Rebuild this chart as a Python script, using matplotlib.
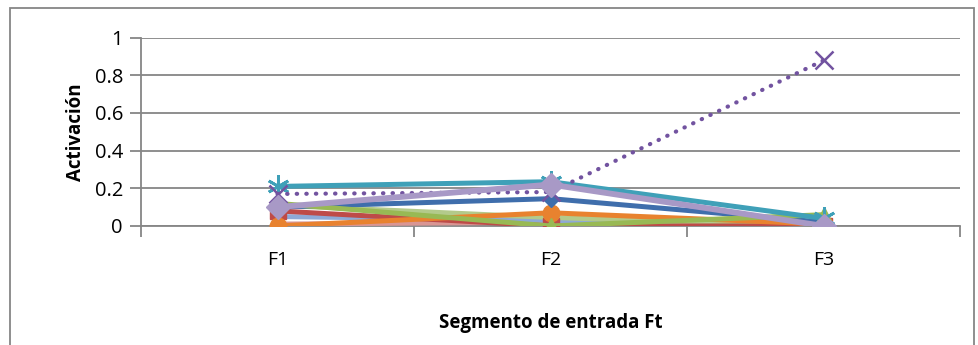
import matplotlib.pyplot as plt
from matplotlib.patches import Rectangle

categories = ['F1', 'F2', 'F3']

# series values (activation per input segment)
s_blue = [0.10, 0.145, 0.02]
s_red = [0.08, 0.0, 0.0]
s_green = [0.12, 0.0, 0.06]
s_purple = [0.17, 0.18, 0.88]
s_teal = [0.21, 0.235, 0.04]
s_orange = [0.0, 0.07, 0.01]
s_ltblue = [0.05, 0.03, 0.0]
s_pink = [0.01, 0.02, 0.0]
s_ltgreen = [0.11, 0.045, 0.0]
s_lavender = [0.10, 0.22, 0.0]

plt.rcParams['font.family'] = ['Open Sans', 'DejaVu Sans']

fig = plt.figure(figsize=(9.79, 3.45), dpi=100)
ax = fig.add_axes([0.144, 0.345, 0.837, 0.546])

x = list(range(len(categories)))
lw = 3.6
ax.plot(x, s_pink, color='#D99694', lw=lw, zorder=3)
ax.plot(x, s_ltblue, color='#8EA9D6', lw=lw, zorder=3)
ax.plot(x, s_ltgreen, color='#B3CA8B', lw=lw, zorder=3)
ax.plot(x, s_orange, color='#E8822F', lw=lw, marker='o', ms=12, zorder=4)
ax.plot(x, s_red, color='#BE4B48', lw=lw, marker='s', ms=11, zorder=3)
ax.plot(x, s_green, color='#98B954', lw=lw, marker='^', ms=12, zorder=5)
ax.plot(x, s_blue, color='#3F6EAC', lw=lw, marker='D', ms=8, zorder=4)
ax.plot(x, s_teal, color='#3FA0B8', lw=lw, marker=(6, 2, 0), ms=16, mew=2, zorder=5)
ax.plot(x, s_purple, color='#7253A0', lw=3, ls=(0, (0.1, 2.2)), dash_capstyle='round',
        marker='x', ms=13, mew=1.8, zorder=6)
ax.plot(x, s_lavender, color='#A899C6', lw=4.2, marker='D', ms=12, zorder=6)

ax.set_xlim(-0.5, 2.5)
ax.set_ylim(0, 1)
ax.set_yticks([0, 0.2, 0.4, 0.6, 0.8, 1])
ax.set_yticklabels(['0', '0.2', '0.4', '0.6', '0.8', '1'])
ax.set_xticks([-0.5, 0.5, 1.5, 2.5])
ax.set_xticklabels([])
ax.set_xticks(x, minor=True)
ax.set_xticklabels(categories, minor=True)
ax.tick_params(axis='x', which='minor', length=0, pad=18, labelsize=14)
ax.tick_params(axis='x', which='major', length=8, color='#868686', width=1.3)
ax.tick_params(axis='y', length=8, color='#868686', width=1.3, labelsize=14.5, pad=5)

ax.grid(axis='y', color='#868686', lw=1.3)
ax.set_axisbelow(True)
for side in ['top', 'right']:
    ax.spines[side].set_visible(False)
for side in ['left', 'bottom']:
    ax.spines[side].set_color('#868686')
    ax.spines[side].set_linewidth(1.3)

ax.set_ylabel('Activación', fontsize=13.5, fontweight='bold', labelpad=6)
ax.set_xlabel('Segmento de entrada Ft', fontsize=13.5, fontweight='bold', labelpad=32)

fig.patches.append(Rectangle((10 / 979, -0.02), 0.985, 1 - 8 / 345 + 0.02,
                             transform=fig.transFigure, fill=False,
                             edgecolor='#868686', lw=1.3))

fig.savefig('out.png', dpi=100)
